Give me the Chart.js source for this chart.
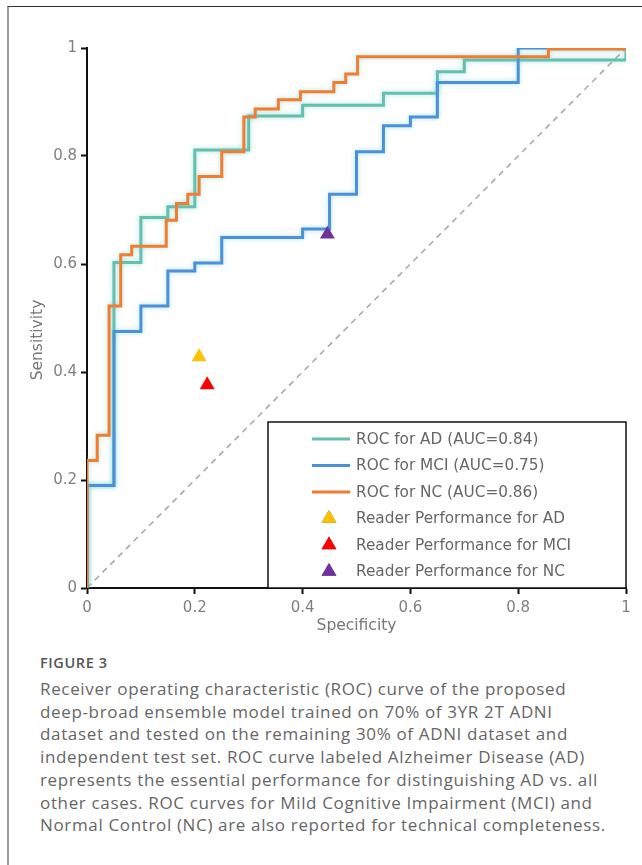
<!DOCTYPE html>
<html>
<head>
<meta charset="utf-8">
<script src="https://cdn.jsdelivr.net/npm/chart.js@4.4.0/dist/chart.umd.min.js"></script>
<style>
  html, body { margin: 0; padding: 0; background: #fff; }
  body { width: 642px; height: 865px; position: relative; overflow: hidden; }
  #frame { position: absolute; left: 7px; top: 6px; width: 640px; height: 870px;
           border-left: 2px solid #9a9a9a; border-top: 1px solid #333; }
  #chartBox { position: absolute; left: 0; top: 0; width: 642px; height: 645px; }
  #caption { position: absolute; left: 40px; top: 652px; font-family: "Open Sans", sans-serif;
             color: #666; white-space: nowrap; }
  #caption .fig { font-size: 14.5px; font-weight: 600; color: #555; letter-spacing: 0.6px; line-height: 22px; }
  #caption .txt { font-size: 17px; line-height: 22.7px; margin-top: 4px; letter-spacing: 0.65px; }
</style>
</head>
<body>
<div id="frame"></div>
<div id="chartBox"><canvas id="c"></canvas></div>
<div id="caption">
  <div class="fig">FIGURE 3</div>
  <div class="txt">Receiver operating characteristic (ROC) curve of the proposed<br>deep-broad ensemble model trained on 70% of 3YR 2T ADNI<br>dataset and tested on the remaining 30% of ADNI dataset and<br>independent test set. ROC curve labeled Alzheimer Disease (AD)<br>represents the essential performance for distinguishing AD vs. all<br>other cases. ROC curves for Mild Cognitive Impairment (MCI) and<br>Normal Control (NC) are also reported for technical completeness.</div>
</div>
<script>
// ---- data ----
const seriesNames = ['ROC for AD (AUC=0.84)', 'ROC for MCI (AUC=0.75)', 'ROC for NC (AUC=0.86)'];
const readerNames = ['Reader Performance for AD', 'Reader Performance for MCI', 'Reader Performance for NC'];

const adX = [0, 0, 0.05, 0.10, 0.15, 0.20, 0.30, 0.40, 0.55, 0.65, 0.70, 1.0];
const adY = [0, 0.19, 0.603, 0.686, 0.706, 0.811, 0.874, 0.894, 0.916, 0.956, 0.978, 1.0];

const mciX = [0, 0, 0.05, 0.10, 0.15, 0.20, 0.25, 0.40, 0.45, 0.50, 0.55, 0.60, 0.65, 0.80, 1.0];
const mciY = [0, 0.19, 0.475, 0.522, 0.587, 0.602, 0.649, 0.665, 0.729, 0.808, 0.856, 0.872, 0.936, 1.0, 1.0];

const ncX = [0, 0, 0.019, 0.041, 0.0625, 0.083, 0.147, 0.166, 0.187, 0.208, 0.25, 0.291, 0.312, 0.355, 0.396, 0.458, 0.48, 0.502, 0.856, 1.0];
const ncY = [0, 0.236, 0.283, 0.522, 0.617, 0.633, 0.681, 0.712, 0.729, 0.762, 0.808, 0.872, 0.887, 0.904, 0.919, 0.936, 0.952, 0.984, 0.998, 1.0];

const readerX = [0.208, 0.223, 0.446];
const readerY = [0.428, 0.376, 0.655];

const chanceX = [0, 1];
const chanceY = [0, 1];

const xTickLabels = ['0', '0.2', '0.4', '0.6', '0.8', '1'];
const yTickLabels = ['0', '0.2', '0.4', '0.6', '0.8', '1'];
const xTitle = 'Specificity';
const yTitle = 'Sensitivity';

// ---- styles ----
const lineColors = ['#64bfb0', '#4a90da', '#f27d30'];
const readerColors = ['#ffc000', '#ff0000', '#7030a0'];
const axisFont = '"DejaVu Sans", sans-serif';

const pts = (xs, ys) => xs.map((x, i) => ({ x: x, y: ys[i] }));

const datasets = [];
const rocX = [adX, mciX, ncX], rocY = [adY, mciY, ncY];
for (let i = 0; i < 3; i++) {
  datasets.push({
    type: 'line', label: seriesNames[i], data: pts(rocX[i], rocY[i]),
    borderColor: lineColors[i], borderWidth: 3, stepped: 'before', pointRadius: 0,
    fill: false, order: 4 - i, isRoc: true
  });
}
datasets.push({
  type: 'line', label: 'chance', data: pts(chanceX, chanceY),
  borderColor: '#a9a9a9', borderWidth: 1.6, borderDash: [6, 5], pointRadius: 0, fill: false, order: 5
});
for (let i = 0; i < 3; i++) {
  datasets.push({
    type: 'scatter', label: readerNames[i], data: [{ x: readerX[i], y: readerY[i] }],
    pointStyle: 'triangle', pointRadius: 8.6, backgroundColor: readerColors[i],
    borderColor: readerColors[i], borderWidth: 0, order: 0
  });
}

const glowPlugin = {
  id: 'glow',
  beforeDatasetDraw(chart, args) {
    const ds = chart.data.datasets[args.index];
    if (ds.isRoc) {
      chart.ctx.save();
      chart.ctx.shadowColor = 'rgba(110,205,195,0.6)';
      chart.ctx.shadowBlur = 5;
    }
  },
  afterDatasetDraw(chart, args) {
    const ds = chart.data.datasets[args.index];
    if (ds.isRoc) chart.ctx.restore();
  }
};

const yTitlePlugin = {
  id: 'yTitle',
  afterDraw(chart) {
    const ctx = chart.ctx, a = chart.chartArea;
    ctx.save();
    ctx.translate(a.left - 49, (a.top + a.bottom) / 2 + 22);
    ctx.rotate(-Math.PI / 2);
    ctx.font = '15.5px ' + axisFont;
    ctx.fillStyle = '#777';
    ctx.textAlign = 'center';
    ctx.textBaseline = 'middle';
    ctx.fillText(yTitle, 0, 0);
    ctx.restore();
  }
};

const legendPlugin = {
  id: 'boxLegend',
  afterDraw(chart) {
    const ctx = chart.ctx, a = chart.chartArea;
    const boxW = 358, boxH = 166;
    const bx = a.right - boxW, by = a.bottom - boxH;
    ctx.save();
    ctx.fillStyle = '#fff';
    ctx.fillRect(bx, by, boxW, boxH);
    ctx.strokeStyle = '#111';
    ctx.lineWidth = 1.5;
    ctx.strokeRect(bx, by, boxW, boxH);
    ctx.font = '15.3px ' + axisFont;
    ctx.textBaseline = 'middle';
    ctx.textAlign = 'left';
    const labels = seriesNames.concat(readerNames);
    for (let i = 0; i < 6; i++) {
      const y = by + 17 + i * 26.5;
      if (i < 3) {
        ctx.strokeStyle = lineColors[i];
        ctx.lineWidth = 3;
        ctx.beginPath(); ctx.moveTo(bx + 44, y); ctx.lineTo(bx + 82, y); ctx.stroke();
      } else {
        Chart.helpers.drawPoint(ctx, { pointStyle: 'triangle', radius: 8.6, rotation: 0, borderWidth: 0 }, bx + 61, y);
        ctx.fillStyle = readerColors[i - 3];
        ctx.fill();
      }
      ctx.fillStyle = '#666';
      ctx.fillText(labels[i], bx + 88, y + 1);
    }
    ctx.restore();
  }
};

new Chart(document.getElementById('c'), {
  data: { datasets: datasets },
  plugins: [glowPlugin, legendPlugin, yTitlePlugin],
  options: {
    responsive: true, maintainAspectRatio: false, animation: false,
    layout: { padding: { left: 0, right: 16, top: 48, bottom: 0 } },
    plugins: { legend: { display: false }, tooltip: { enabled: false } },
    scales: {
      x: {
        type: 'linear', min: 0, max: 1,
        afterFit(s) { s.height = 57; },
        ticks: { stepSize: 0.2, color: '#808080', font: { family: axisFont, size: 15 }, padding: 5,
                 callback: (v, i) => xTickLabels[i] },
        grid: { drawOnChartArea: false, drawTicks: true, tickLength: 6, tickColor: '#111', tickWidth: 2 },
        border: { display: true, color: '#111', width: 2 },
        title: { display: true, text: xTitle, color: '#777', font: { family: axisFont, size: 15.5 },
                 padding: { top: 0, bottom: 10 } }
      },
      y: {
        type: 'linear', min: 0, max: 1,
        afterFit(s) { s.width = 87; },
        ticks: { stepSize: 0.2, color: '#808080', font: { family: axisFont, size: 15 }, padding: 4,
                 callback: (v, i) => yTickLabels[i] },
        grid: { drawOnChartArea: false, drawTicks: true, tickLength: 6, tickColor: '#111', tickWidth: 2 },
        border: { display: true, color: '#111', width: 2 },
        title: { display: false }
      }
    }
  }
});
</script>
</body>
</html>
